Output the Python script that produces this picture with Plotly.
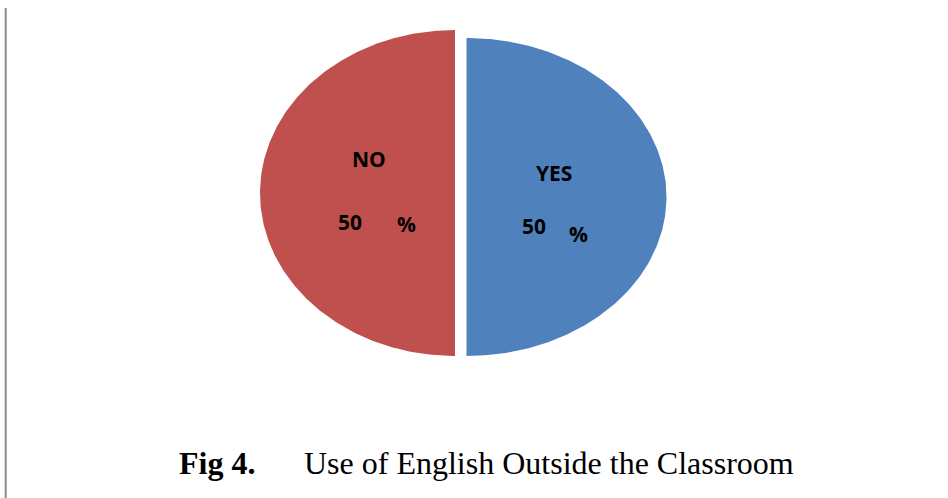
import numpy as np
import plotly.graph_objects as go

# Survey answers: does the student use English outside the classroom?
categories = ["YES", "NO"]
shares = [50, 50]
slice_colors = ["#4F81BD", "#C0504D"]

caption_number = "Fig 4."
caption_title = "Use of English Outside the Classroom"

W, H = 948, 498

# Ellipse geometry for each slice, in pixel units (NO is pulled out slightly)
geometry = [
    dict(cx=466.5, cy=197, rx=200, ry=159),
    dict(cx=455.0, cy=193, rx=195, ry=163),
]
# Where the label pieces of each slice sit: category name, number, percent sign
label_pos = [
    dict(name=(554, 173), num=(534, 226), pct=(578, 234)),
    dict(name=(369, 159), num=(349.5, 222), pct=(406, 223.5)),
]

LABEL_FONT = dict(family="Open Sans", size=21, color="#000000")

fig = go.Figure()

total = float(sum(shares))
start = 0.0  # fraction of the full turn, measured clockwise from 12 o'clock
for cat, val, col, g in zip(categories, shares, slice_colors, geometry):
    frac = val / total
    theta = np.linspace(start, start + frac, 240) * 2 * np.pi
    xs = np.concatenate([[g["cx"]], g["cx"] + g["rx"] * np.sin(theta), [g["cx"]]])
    ys = np.concatenate([[g["cy"]], g["cy"] - g["ry"] * np.cos(theta), [g["cy"]]])
    fig.add_trace(
        go.Scatter(
            x=xs,
            y=ys,
            mode="lines",
            fill="toself",
            fillcolor=col,
            line=dict(width=0, color=col),
            hoveron="fills",
            hoverinfo="text",
            text=f"{cat}: {val:g}%",
            showlegend=False,
        )
    )
    start += frac

annotations = []
for cat, val, pos in zip(categories, shares, label_pos):
    for key, txt in (("name", cat), ("num", f"{val:g}"), ("pct", "%")):
        x, y = pos[key]
        annotations.append(
            dict(
                x=x, y=y, xref="x", yref="y",
                text=f"<b>{txt}</b>",
                showarrow=False,
                xanchor="center", yanchor="middle",
                font=LABEL_FONT,
            )
        )

CAPTION_FONT = dict(family="Liberation Serif, Times New Roman, serif", size=32, color="#000000")
annotations.append(
    dict(x=177, y=463, xref="x", yref="y", text=f"<b>{caption_number}</b>",
         showarrow=False, xanchor="left", yanchor="middle", font=CAPTION_FONT)
)
annotations.append(
    dict(x=302, y=463, xref="x", yref="y", text=caption_title,
         showarrow=False, xanchor="left", yanchor="middle", font=CAPTION_FONT)
)

fig.update_layout(
    width=W,
    height=H,
    margin=dict(l=0, r=0, t=0, b=0),
    paper_bgcolor="#FFFFFF",
    plot_bgcolor="#FFFFFF",
    xaxis=dict(range=[0, W], visible=False, fixedrange=True),
    yaxis=dict(range=[H, 0], visible=False, fixedrange=True),
    annotations=annotations,
    shapes=[
        dict(type="line", xref="x", yref="y", x0=5.7, x1=5.7, y0=8, y1=H,
             line=dict(color="#8C8C8C", width=2)),
    ],
)

fig.write_html("out.html", config={"displayModeBar": False})
